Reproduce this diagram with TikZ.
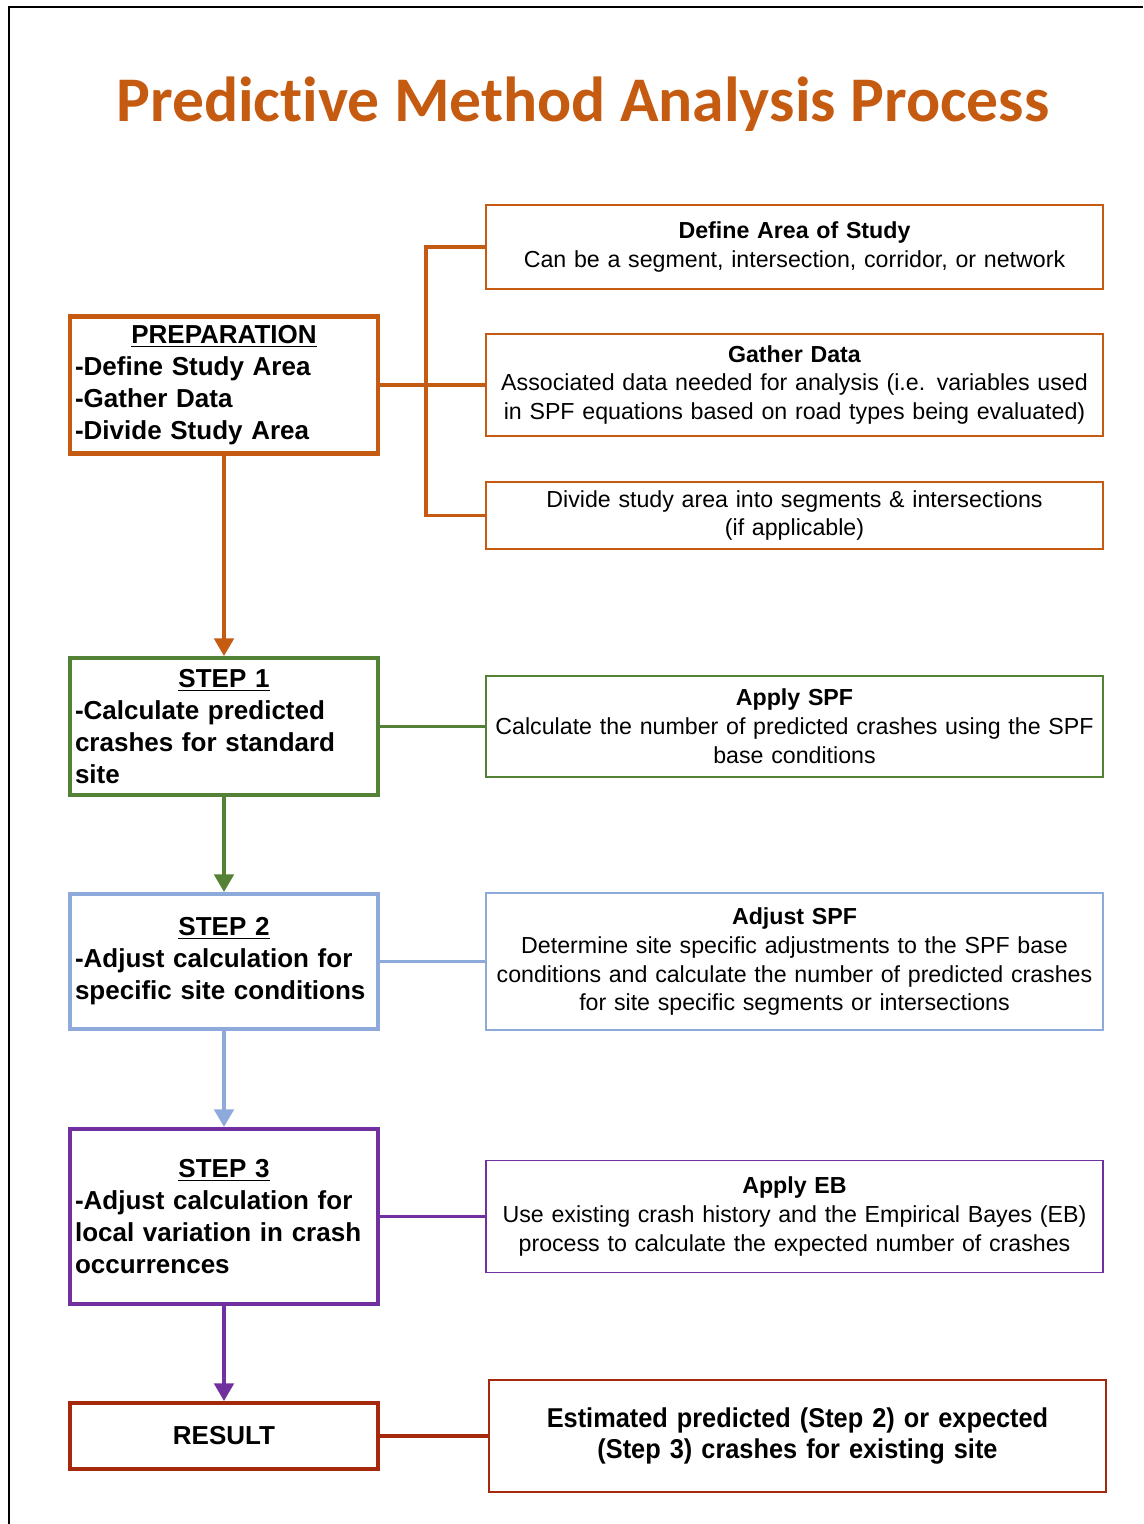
\documentclass[tikz,border=0pt]{standalone}
\usepackage{fontspec}
\setmainfont{Liberation Sans}
\newfontfamily\titlefont{Carlito}[Ligatures=NoCommon]
\newfontfamily\narrowfont{Liberation Sans}[FakeStretch=0.93]
\usetikzlibrary{arrows.meta}
\definecolor{prepcol}{HTML}{C55A11}
\definecolor{onecol}{HTML}{538135}
\definecolor{twocol}{HTML}{8EAADB}
\definecolor{threecol}{HTML}{7030A0}
\definecolor{rescol}{HTML}{A52A0D}
\newcommand{\stagehead}[1]{\makebox[\hsize]{\underline{#1}}}

\begin{document}
\begin{tikzpicture}[x=0.02cm,y=-0.02cm]
    \tikzset{
    stage box/.style={draw,line width=2.3pt,minimum width=6.16cm,text width=5.96cm,inner xsep=0.1cm,inner ysep=0pt,align=left,font=\bfseries\fontsize{14.8}{18.2}\selectfont},
    info box/.style={draw,line width=1.1pt,minimum width=12.34cm,text width=12.2cm,inner xsep=0.07cm,inner ysep=0pt,align=center,font=\fontsize{13.2}{16.5}\selectfont},
    link/.style={line width=2.1pt},
    flow/.style={line width=2.1pt,-{Triangle[width=11pt,length=10pt]}}
    }
    \useasboundingbox (0,0) rectangle (1143,1524);
    \draw[line width=1.1pt] (9,1524) -- (9,7) -- (1143,7);

    \node[font=\titlefont\bfseries\fontsize{36.2}{40}\selectfont,text=prepcol] (title) at (583,104) {Predictive Method Analysis Process};

    % left column
    \node[stage box,draw=prepcol,minimum height=2.74cm] (prep) at (224,385) {\stagehead{PREPARATION}\\-Define Study Area\\-Gather Data\\-Divide Study Area};
    \node[stage box,draw=onecol,minimum height=2.74cm] (one) at (224,726.5) {\stagehead{STEP 1}\\-Calculate predicted\\crashes for standard\\site};
    \node[stage box,draw=twocol,minimum height=2.70cm] (two) at (224,961.5) {\stagehead{STEP 2}\\-Adjust calculation for\\specific site conditions};
    \node[stage box,draw=threecol,minimum height=3.50cm] (three) at (224,1216.5) {\stagehead{STEP 3}\\-Adjust calculation for\\local variation in crash\\occurrences};
    \node[stage box,draw=rescol,minimum height=1.32cm,align=center] (result) at (224,1436) {RESULT};

    % right column
    \node[info box,draw=prepcol,minimum height=1.68cm] (define) at (794.5,247) {\textbf{Define Area of Study}\\Can be a segment, intersection, corridor, or network};
    \node[info box,draw=prepcol,minimum height=2.04cm] (gather) at (794.5,385) {\textbf{Gather Data}\\Associated data needed for analysis (i.e. variables used\\in SPF equations based on road types being evaluated)};
    \node[info box,draw=prepcol,minimum height=1.34cm] (divide) at (794.5,515.5) {Divide study area into segments \& intersections\\(if applicable)};
    \node[info box,draw=onecol,minimum height=2.02cm] (applyspf) at (794.5,726.5) {\textbf{Apply SPF}\\Calculate the number of predicted crashes using the SPF\\base conditions};
    \node[info box,draw=twocol,minimum height=2.74cm] (adjustspf) at (794.5,961.5) {\textbf{Adjust SPF}\\Determine site specific adjustments to the SPF base\\conditions and calculate the number of predicted crashes\\for site specific segments or intersections};
    \node[info box,draw=threecol,minimum height=2.24cm] (applyeb) at (794.5,1216.5) {\textbf{Apply EB}\\Use existing crash history and the Empirical Bayes (EB)\\process to calculate the expected number of crashes};
    \node[info box,draw=rescol,minimum height=2.24cm,font=\narrowfont\bfseries\fontsize{15.5}{18.2}\selectfont] (estimate) at (797.5,1436) {Estimated predicted (Step 2) or expected\\(Step 3) crashes for existing site};

    % connectors
    \coordinate (fork) at (426,385);
    \draw[link,prepcol] (prep) -- (gather);
    \draw[link,prepcol] (define.west) -| (fork) |- (divide.west);
    \draw[link,onecol] (one) -- (applyspf);
    \draw[link,twocol] (two) -- (adjustspf);
    \draw[link,threecol] (three) -- (applyeb);
    \draw[link,rescol] (result) -- (estimate);

    \draw[flow,prepcol] (prep) -- (one);
    \draw[flow,onecol] (one) -- (two);
    \draw[flow,twocol] (two) -- (three);
    \draw[flow,threecol] (three) -- (result);
\end{tikzpicture}
\end{document}
